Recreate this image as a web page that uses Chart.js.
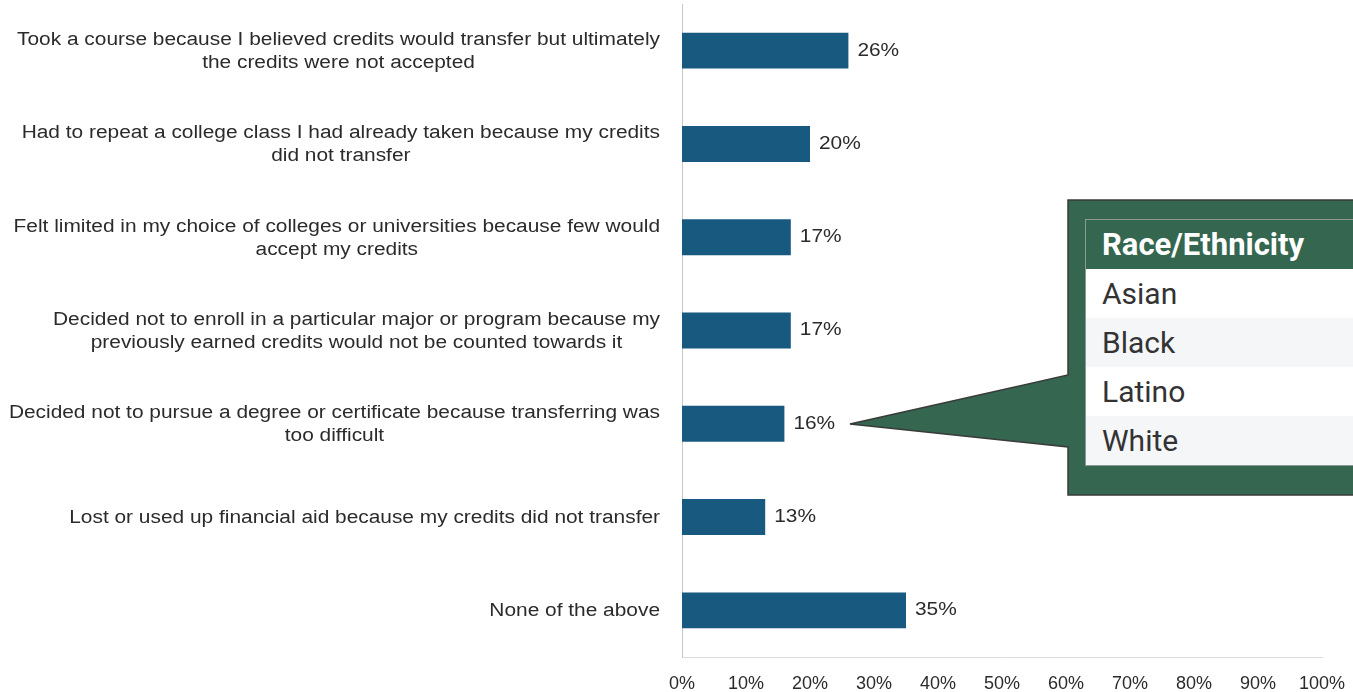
<!DOCTYPE html>
<html>
<head>
<meta charset="utf-8">
<script src="https://cdn.jsdelivr.net/npm/chart.js@4.4.1/dist/chart.umd.min.js"></script>
<style>
  html, body { margin: 0; padding: 0; background: #fff; }
  #wrap { position: relative; width: 1353px; height: 692px; overflow: hidden; }
  #chart { position: absolute; left: 0; top: 0; }
  #callout { position: absolute; left: 0; top: 0; }
  #legendTable {
    position: absolute; left: 1085px; top: 219px; width: 290px;
    border: 1px solid #8a9a92;
    font-family: Roboto, sans-serif; color: #333;
  }
  #legendTable div { height: 49px; line-height: 49px; padding-left: 16px; font-size: 30px; }
  #legendTable .head { background: #346650; color: #fff; font-weight: bold; font-size: 31px; }
  #legendTable .row:nth-child(even) { background: #fff; }
  #legendTable .row:nth-child(odd) { background: #f5f6f8; }
</style>
</head>
<body>
<div id="wrap">
  <canvas id="chart" width="1353" height="692"></canvas>
  <svg id="callout" width="1353" height="692">
    <path d="M1068,200 H1365 V495 H1068 V447 L850,424 L1068,375 Z"
          fill="#346650" stroke="#3a3a3a" stroke-width="1.5"/>
  </svg>
  <div id="legendTable"></div>
</div>
<script>
// Survey answers (one entry per bar, split into display lines)
const categories = [
    ['Took a course because I believed credits would transfer but ultimately', 'the credits were not accepted'],
    ['Had to repeat a college class I had already taken because my credits', 'did not transfer'],
    ['Felt limited in my choice of colleges or universities because few would', 'accept my credits'],
    ['Decided not to enroll in a particular major or program because my', 'previously earned credits would not be counted towards it'],
    ['Decided not to pursue a degree or certificate because transferring was', 'too difficult'],
    ['Lost or used up financial aid because my credits did not transfer'],
    ['None of the above']
];
const percentages = [26, 20, 17, 17, 16, 13, 35];
const axisMax = 100;
const axisStep = 10;

const groupTitle = 'Race/Ethnicity';
const groups = ['Asian', 'Black', 'Latino', 'White'];

// Callout table
const table = document.getElementById('legendTable');
const head = document.createElement('div');
head.className = 'head';
head.textContent = groupTitle;
table.appendChild(head);
groups.forEach(g => {
    const row = document.createElement('div');
    row.className = 'row';
    row.textContent = g;
    table.appendChild(row);
});

const textFont = '18px "Liberation Sans", Arial, sans-serif';
const textColor = '#2b2b2b';
const stretch = 1.16;

function drawStretched(ctx, text, x, y, align) {
    ctx.save();
    ctx.translate(x, y);
    ctx.scale(stretch, 1);
    ctx.textAlign = align;
    ctx.fillText(text, 0, 0);
    ctx.restore();
}

// Category labels: right-aligned block, lines centred within it
const categoryLabels = {
    id: 'categoryLabels',
    afterDraw(chart) {
        const ctx = chart.ctx;
        const yScale = chart.scales.y;
        const rightEdge = 660;
        const lineHeight = 23;
        ctx.save();
        ctx.font = textFont;
        ctx.fillStyle = textColor;
        ctx.textBaseline = 'middle';
        categories.forEach((lines, i) => {
            const cy = yScale.getPixelForValue(i) + 1;
            const block = Math.max(...lines.map(l => ctx.measureText(l).width * stretch));
            const cx = rightEdge - block / 2;
            lines.forEach((l, j) => {
                const ly = cy + (j - (lines.length - 1) / 2) * lineHeight;
                drawStretched(ctx, l, cx, ly, 'center');
            });
        });
        ctx.restore();
    }
};

// Percentage labels at the end of each bar
const valueLabels = {
    id: 'valueLabels',
    afterDatasetsDraw(chart) {
        const ctx = chart.ctx;
        const meta = chart.getDatasetMeta(0);
        ctx.save();
        ctx.font = textFont;
        ctx.fillStyle = textColor;
        ctx.textBaseline = 'middle';
        meta.data.forEach((bar, i) => {
            drawStretched(ctx, percentages[i] + '%', bar.x + 9, bar.y, 'left');
        });
        ctx.restore();
    }
};

new Chart(document.getElementById('chart').getContext('2d'), {
    type: 'bar',
    data: {
        labels: categories,
        datasets: [{
            data: percentages,
            backgroundColor: '#17597f',
            borderWidth: 0,
            barPercentage: 0.385,
            categoryPercentage: 1
        }]
    },
    options: {
        indexAxis: 'y',
        responsive: false,
        animation: false,
        layout: { padding: { top: 4, right: 31, left: 0, bottom: 0 } },
        plugins: {
            legend: { display: false },
            tooltip: { enabled: false }
        },
        scales: {
            x: {
                min: 0,
                max: axisMax,
                grid: { display: false, drawTicks: false },
                border: { display: true, color: '#dcdcdc' },
                ticks: {
                    stepSize: axisStep,
                    padding: 16,
                    color: textColor,
                    font: { family: '"Liberation Sans", Arial, sans-serif', size: 18 },
                    callback: v => v + '%'
                },
                afterFit: s => { s.height = 35; s.paddingRight = 0; s.paddingLeft = 0; }
            },
            y: {
                grid: { display: false, drawTicks: false },
                border: { display: true, color: '#c8c8c8' },
                ticks: { display: false },
                afterFit: s => { s.width = 682; }
            }
        }
    },
    plugins: [categoryLabels, valueLabels]
});
</script>
</body>
</html>
